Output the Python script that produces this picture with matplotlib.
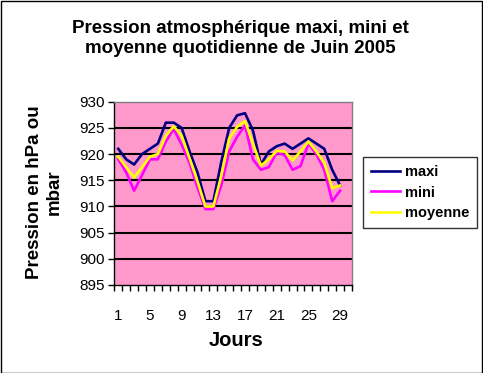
import matplotlib
matplotlib.use("Agg")
import matplotlib.pyplot as plt
from matplotlib.patches import Rectangle

days = list(range(1, 31))
maxi = [921, 919, 918, 920, 921, 922, 926, 926, 925, 920.5, 916.5, 911, 911, 918.5, 925,
        927.4, 927.8, 924.5, 918, 920.5, 921.5, 922, 921, 922, 923, 922, 921, 917, 914]
mini = [919, 916.5, 913, 916, 919, 919, 922.4, 924.8, 921.8, 918.3, 913.6, 909.5, 909.5, 914, 920.5,
        923.3, 925.5, 919, 917, 917.5, 920.3, 919.8, 917, 917.7, 922, 920, 917, 911, 913]
moyenne = [919.5, 917.5, 915.5, 917.5, 919.5, 920, 923.5, 925.3, 923.5, 919.2, 914.8, 910, 910, 915.8, 923,
           925.2, 926.3, 922, 917.8, 919, 920.6, 920.5, 918.8, 920.5, 922.4, 920.5, 918.3, 913.5, 914]
xtick_labels = ["1", "5", "9", "13", "17", "21", "25", "29"]
yticks = [895, 900, 905, 910, 915, 920, 925, 930]

plt.rcParams['font.family'] = ['Liberation Sans', 'DejaVu Sans']

W, H = 483, 373
fig = plt.figure(figsize=(W / 100, H / 100), dpi=100)
fig.patch.set_facecolor('white')
fig.add_artist(Rectangle((0.5 / W, 0.5 / H), 1 - 1.5 / W, 1 - 1.5 / H, transform=fig.transFigure,
                         fill=False, edgecolor='black', linewidth=1))

ax = fig.add_axes([114.3 / W, 1 - 285 / H, (352 - 114.3) / W, (285 - 101.7) / H])
ax.set_facecolor('#FF99CC')

x = days[:len(maxi)]
ax.plot(x, maxi, color='#000080', lw=1.9, label='maxi', zorder=3)
ax.plot(x, mini, color='#FF00FF', lw=1.9, label='mini', zorder=3)
ax.plot(x, moyenne, color='#FFFF00', lw=1.9, label='moyenne', zorder=3)

ax.set_xlim(0.5, 30.5)
ax.set_ylim(895, 930)
ax.set_yticks(yticks)
ax.set_yticklabels([str(v) for v in yticks], fontsize=11)
for v in yticks[1:-1]:
    ax.axhline(v, color='black', lw=1.5, zorder=2)

ax.set_xticks([int(t) for t in xtick_labels])
ax.set_xticklabels(xtick_labels, fontsize=11)
ax.set_xticks([d + 0.5 for d in [0] + days], minor=True)
ax.tick_params(axis='x', which='major', length=0, pad=17)
ax.tick_params(axis='x', which='minor', length=4, width=1, direction='out')
ax.tick_params(axis='y', length=4, width=1, direction='out', pad=3)

for s in ['top', 'right']:
    ax.spines[s].set_color('#808080')
    ax.spines[s].set_linewidth(1)
for s in ['left', 'bottom']:
    ax.spines[s].set_color('black')
    ax.spines[s].set_linewidth(1)

fig.text(240 / W, 1 - 38.5 / H, "Pression atmosphérique maxi, mini et\nmoyenne quotidienne de Juin 2005",
         ha='center', va='center', fontsize=13.5, fontweight='bold', linespacing=1.3)
fig.text(236 / W, 1 - 341 / H, "Jours", ha='center', va='center', fontsize=14.5, fontweight='bold')
fig.text(44 / W, 1 - 192 / H, "Pression en hPa ou\nmbar", ha='center', va='center', rotation=90,
         fontsize=13.5, fontweight='bold', linespacing=1.2)

leg = fig.legend(loc='upper left', bbox_to_anchor=(363 / W, 1 - 157 / H), frameon=True,
                 fancybox=False, prop={'size': 10.5, 'weight': 'bold'}, handlelength=2.0,
                 handletextpad=0.3, borderpad=0.55, labelspacing=0.45, borderaxespad=0)
leg.get_frame().set_edgecolor('black')
leg.get_frame().set_linewidth(1)

fig.savefig('out.png', dpi=100)
